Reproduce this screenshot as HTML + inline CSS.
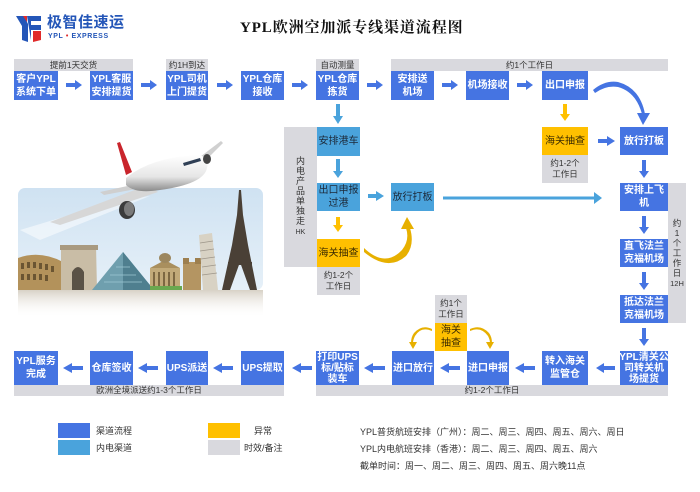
<!DOCTYPE html>
<html><head><meta charset="utf-8">
<style>
*{margin:0;padding:0;box-sizing:border-box}
html,body{width:700px;height:492px;background:#fff;overflow:hidden}
body{position:relative;font-family:"Liberation Sans","Noto Sans CJK SC",sans-serif}
.b{position:absolute;background:#4574e2;color:#fff;font-weight:bold;font-size:10px;line-height:13px;display:flex;align-items:center;justify-content:center;text-align:center;white-space:nowrap}
.l{background:#4aa3dc;color:#1d2a3a;font-weight:normal}
.y{background:#ffc000;color:#3a2a00;font-weight:normal}
.g{position:absolute;background:#d9d9de;color:#333;font-size:8.5px;line-height:11px;display:flex;align-items:center;justify-content:center;text-align:center;white-space:nowrap}
.t{position:absolute;font-size:9px;color:#333;white-space:nowrap;line-height:11px}
svg{position:absolute;left:0;top:0}
</style></head><body>

<svg width="700" height="492" viewBox="0 0 700 492">
<defs>
<linearGradient id="sky" x1="0" y1="0" x2="0" y2="1">
<stop offset="0" stop-color="#cfe2f2"/><stop offset="1" stop-color="#e6f0f8"/></linearGradient>
<linearGradient id="refl" x1="0" y1="0" x2="0" y2="1">
<stop offset="0" stop-color="#b8ad98" stop-opacity="0.55"/><stop offset="1" stop-color="#ffffff" stop-opacity="0"/></linearGradient>
<linearGradient id="fus" x1="0" y1="0" x2="0" y2="1">
<stop offset="0" stop-color="#ffffff"/><stop offset="0.6" stop-color="#e6e6e6"/><stop offset="1" stop-color="#8a8a8a"/></linearGradient>
</defs>
<path d="M16 16 L24 16 L28 24 L28 42 L22 40 L22 26 Z" fill="#2456b8"/>
<path d="M27 16 L41 16 L41 21 L31 21 L31 25 L41 25 L41 30 L31 30 L31 40 Z" fill="#2456b8"/>
<path d="M33 31 L41 31 L41 40 L33 42 Z" fill="#e02a2a"/>
<path d="M23 16 L27 16 L27 22 Z" fill="#e02a2a"/>

<rect x="18" y="188" width="245" height="102" rx="7" fill="url(#sky)"/>
<path d="M20 230 L120 200 L150 196 L40 240 Z" fill="#ffffff" opacity="0.5"/>
<path d="M18 258 Q40 250 63 262 L63 290 L18 290 Z" fill="#b3925b"/>
<g fill="#6b5532"><rect x="21" y="263" width="3" height="6"/><rect x="27" y="262" width="3" height="6"/><rect x="33" y="262" width="3" height="6"/><rect x="39" y="263" width="3" height="6"/><rect x="45" y="264" width="3" height="6"/><rect x="51" y="266" width="3" height="6"/><rect x="21" y="274" width="3" height="6"/><rect x="27" y="274" width="3" height="6"/><rect x="33" y="274" width="3" height="6"/><rect x="39" y="274" width="3" height="6"/><rect x="45" y="275" width="3" height="6"/></g>
<path d="M61 248 L96 245 L97 290 L61 290 Z" fill="#c9bda6"/>
<rect x="60" y="245" width="38" height="5" fill="#a99a80"/>
<path d="M72 290 L72 272 Q78 262 84 272 L84 290 Z" fill="#5a5246"/>
<path d="M92 290 L123 252 L154 290 Z" fill="#6f9fae"/>
<path d="M123 252 L154 290 L123 290 Z" fill="#4f7f8f"/>
<path d="M110 275 L136 275 M104 282 L142 282 M116 267 L130 267" stroke="#9fc6d2" stroke-width="0.7"/>
<rect x="150" y="268" width="30" height="22" fill="#c2aa79"/>
<path d="M150 268 L165 260 L180 268 Z" fill="#a98f5e"/>
<ellipse cx="165" cy="258" rx="6" ry="5" fill="#9c875f"/>
<g fill="#7d6842"><rect x="153" y="272" width="2" height="14"/><rect x="158" y="272" width="2" height="14"/><rect x="163" y="272" width="2" height="14"/><rect x="168" y="272" width="2" height="14"/><rect x="173" y="272" width="2" height="14"/></g>
<rect x="150" y="286" width="32" height="4" fill="#6aa84f"/>
<rect x="183" y="262" width="18" height="28" fill="#b49562"/>
<rect x="183" y="258" width="6" height="6" fill="#9d7f4f"/><rect x="195" y="258" width="6" height="6" fill="#9d7f4f"/>
<path d="M199 235 L212 233 L218 290 L203 290 Z" fill="#d8d2c4"/>
<g stroke="#9d968a" stroke-width="0.8"><line x1="200" y1="243" x2="213" y2="241"/><line x1="200" y1="251" x2="214" y2="249"/><line x1="201" y1="259" x2="215" y2="257"/><line x1="202" y1="267" x2="216" y2="265"/><line x1="202" y1="275" x2="217" y2="273"/></g>
<path d="M239 190 L241 190 L243 215 L248 245 L257 290 L250 290 L240 262 L230 290 L222 290 L232 245 L237 215 Z" fill="#4a4036"/>
<rect x="228" y="262" width="24" height="3" fill="#4a4036"/>
<rect x="233" y="242" width="14" height="2" fill="#4a4036"/>
<rect x="18" y="290" width="245" height="28" fill="url(#refl)"/>
<path d="M50 222 L148 185 L158 192 L60 225 Z" fill="#d7d7d7"/>
<path d="M100 192 L132 185 L136 189 L104 195 Z" fill="#cfcfcf"/>
<path d="M196 160 L221 141 L223 143 L202 164 Z" fill="#d0d0d0"/>
<path d="M117 143 L120 142 L132 172 L126 175 Z" fill="#c9252c"/>
<path d="M126 178 Q150 158 195 155 Q210 155 207 168 Q204 184 160 190 Q135 194 126 185 Z" fill="url(#fus)"/>
<path d="M183 163 L200 158 L201 161 L184 166 Z" fill="#2f3f55"/>
<ellipse cx="127" cy="210" rx="8" ry="9" fill="#3b3b3b"/>
<ellipse cx="129" cy="209" rx="5" ry="7" fill="#7a7a7a"/>
<ellipse cx="207" cy="159" rx="4" ry="5" fill="#444"/>

<g fill="#4574e2">
<path d="M66 83 L75 83 L75 80 L82 85 L75 90 L75 87 L66 87 Z"/>
<path d="M141 83 L150 83 L150 80 L157 85 L150 90 L150 87 L141 87 Z"/>
<path d="M217 83 L226 83 L226 80 L233 85 L226 90 L226 87 L217 87 Z"/>
<path d="M292 83 L301 83 L301 80 L308 85 L301 90 L301 87 L292 87 Z"/>
<path d="M367 83 L376 83 L376 80 L383 85 L376 90 L376 87 L367 87 Z"/>
<path d="M442 83 L451 83 L451 80 L458 85 L451 90 L451 87 L442 87 Z"/>
<path d="M517 83 L526 83 L526 80 L533 85 L526 90 L526 87 L517 87 Z"/>
<path d="M598 139 L607 139 L607 136 L615 141 L607 146 L607 143 L598 143 Z"/>
<path d="M642 160 L646 160 L646 171 L649 171 L644 178 L639 171 L642 171 Z"/>
<path d="M642 216 L646 216 L646 227 L649 227 L644 234 L639 227 L642 227 Z"/>
<path d="M642 272 L646 272 L646 283 L649 283 L644 290 L639 283 L642 283 Z"/>
<path d="M642 328 L646 328 L646 339 L649 339 L644 346 L639 339 L642 339 Z"/>
<path d="M615 366 L604 366 L604 363 L596 368 L604 373 L604 370 L615 370 Z"/>
<path d="M535 366 L524 366 L524 363 L515 368 L524 373 L524 370 L535 370 Z"/>
<path d="M460 366 L449 366 L449 363 L440 368 L449 373 L449 370 L460 370 Z"/>
<path d="M385 366 L373 366 L373 363 L364 368 L373 373 L373 370 L385 370 Z"/>
<path d="M312 366 L301 366 L301 363 L292 368 L301 373 L301 370 L312 370 Z"/>
<path d="M233 366 L222 366 L222 363 L213 368 L222 373 L222 370 L233 370 Z"/>
<path d="M158 366 L147 366 L147 363 L138 368 L147 373 L147 370 L158 370 Z"/>
<path d="M83 366 L72 366 L72 363 L63 368 L72 373 L72 370 L83 370 Z"/>
<path d="M593 90 Q605 80 618 82 Q640 88 645 114 L642 114 Q636 92 618 87 Q606 85 595 93 Z"/>
<path d="M637 113 L650 113 L643 125 Z"/>
</g>
<g fill="#4aa3dc">
<path d="M336 104 L340 104 L340 116 L343 116 L338 124 L333 116 L336 116 Z"/>
<path d="M336 159 L340 159 L340 171 L343 171 L338 178 L333 171 L336 171 Z"/>
<path d="M368 194 L376 194 L376 191 L384 196 L376 201 L376 198 L368 198 Z"/>
<path d="M443 196.5 L594 196.5 L594 192 L602 198 L594 204 L594 199.5 L443 199.5 Z"/>
</g>
<g fill="#ffc000">
<path d="M563 104 L567 104 L567 114 L570 114 L565 121 L560 114 L563 114 Z"/>
<path d="M336 217 L340 217 L340 225 L343 225 L338 232 L333 225 L336 225 Z"/>
<path d="M364 248 Q385 268 402 250 Q410 240 406 228 L410 228 Q415 245 406 256 Q388 272 364 252 Z" fill="#e7b000"/>
<path d="M401 229 L414 229 L407 217 Z" fill="#e7b000"/>
<path d="M432 331 Q421 326 415 336 Q413 340 413 343 L411 343 Q411 337 414 333 Q422 324 432 329 Z" fill="#e7b000"/>
<path d="M409 342 L417 342 L413 349 Z" fill="#e7b000"/>
<path d="M470 331 Q481 326 488 336 Q490 340 490 343 L492 343 Q492 337 489 333 Q481 324 470 329 Z" fill="#e7b000"/>
<path d="M486 342 L494 342 L490 349 Z" fill="#e7b000"/>
</g>
</svg>

<div class="t" style="left:47px;top:15px;font-size:15px;line-height:16px;font-weight:bold;color:#2456b8;letter-spacing:0.5px">极智佳速运</div>
<div class="t" style="left:48px;top:32px;font-size:7px;line-height:9px;font-weight:bold;color:#2456b8;letter-spacing:0.6px">YPL <span style="color:#e02a2a">•</span> EXPRESS</div>

<div class="t" style="left:240px;top:19px;font-family:'Liberation Serif','Noto Serif CJK SC',serif;font-size:15px;line-height:19px;font-weight:bold;color:#111;letter-spacing:0.9px">YPL欧洲空加派专线渠道流程图</div>

<div class="g" style="left:14px;top:59px;width:119px;height:12px">提前1天交货</div>
<div class="g" style="left:166px;top:59px;width:42px;height:12px">约1H到达</div>
<div class="g" style="left:316px;top:59px;width:43px;height:12px">自动测量</div>
<div class="g" style="left:391px;top:59px;width:277px;height:12px">约1个工作日</div>

<div class="b" style="left:14px;top:71px;width:44px;height:29px"><div>客户YPL<br>系统下单</div></div>
<div class="b" style="left:90px;top:71px;width:43px;height:29px"><div>YPL客服<br>安排提货</div></div>
<div class="b" style="left:166px;top:71px;width:42px;height:29px"><div>YPL司机<br>上门提货</div></div>
<div class="b" style="left:241px;top:71px;width:43px;height:29px"><div>YPL仓库<br>接收</div></div>
<div class="b" style="left:316px;top:71px;width:43px;height:29px"><div>YPL仓库<br>拣货</div></div>
<div class="b" style="left:391px;top:71px;width:43px;height:29px"><div>安排送<br>机场</div></div>
<div class="b" style="left:466px;top:71px;width:43px;height:29px"><div>机场接收</div></div>
<div class="b" style="left:542px;top:71px;width:46px;height:29px"><div>出口申报</div></div>

<div class="b y" style="left:542px;top:127px;width:46px;height:28px"><div>海关抽查</div></div>
<div class="g" style="left:542px;top:155px;width:46px;height:28px"><div>约1-2个<br>工作日</div></div>

<div class="b" style="left:620px;top:127px;width:48px;height:28px"><div>放行打板</div></div>
<div class="b" style="left:620px;top:183px;width:48px;height:28px"><div>安排上飞<br>机</div></div>
<div class="b" style="left:620px;top:239px;width:48px;height:28px"><div>直飞法兰<br>克福机场</div></div>
<div class="b" style="left:620px;top:295px;width:48px;height:28px"><div>抵达法兰<br>克福机场</div></div>
<div class="b" style="left:620px;top:351px;width:48px;height:34px;line-height:11px"><div>YPL清关公<br>司转关机<br>场提货</div></div>
<div class="g" style="left:668px;top:183px;width:18px;height:140px;line-height:10px;font-size:8.5px"><div>约<br>1<br>个<br>工<br>作<br>日<br><span style="font-size:7.5px">12H</span></div></div>

<div class="g" style="left:284px;top:127px;width:33px;height:140px;line-height:10px;font-size:9px"><div>内<br>电<br>产<br>品<br>单<br>独<br>走<br><span style="font-size:7px">HK</span></div></div>
<div class="b l" style="left:317px;top:127px;width:43px;height:29px"><div>安排港车</div></div>
<div class="b l" style="left:317px;top:183px;width:43px;height:28px"><div>出口申报<br>过港</div></div>
<div class="b y" style="left:317px;top:239px;width:43px;height:28px"><div>海关抽查</div></div>
<div class="g" style="left:317px;top:267px;width:43px;height:28px"><div>约1-2个<br>工作日</div></div>
<div class="b l" style="left:391px;top:183px;width:43px;height:28px"><div>放行打板</div></div>

<div class="g" style="left:435px;top:295px;width:32px;height:28px"><div>约1个<br>工作日</div></div>
<div class="b y" style="left:435px;top:323px;width:32px;height:28px"><div>海关<br>抽查</div></div>

<div class="b" style="left:14px;top:351px;width:44px;height:34px"><div>YPL服务<br>完成</div></div>
<div class="b" style="left:90px;top:351px;width:43px;height:34px"><div>仓库签收</div></div>
<div class="b" style="left:166px;top:351px;width:42px;height:34px"><div>UPS派送</div></div>
<div class="b" style="left:241px;top:351px;width:43px;height:34px"><div>UPS提取</div></div>
<div class="b" style="left:316px;top:351px;width:43px;height:34px;line-height:11px"><div>打印UPS<br>标/贴标<br>装车</div></div>
<div class="b" style="left:392px;top:351px;width:42px;height:34px"><div>进口放行</div></div>
<div class="b" style="left:467px;top:351px;width:42px;height:34px"><div>进口申报</div></div>
<div class="b" style="left:542px;top:351px;width:46px;height:34px"><div>转入海关<br>监管仓</div></div>
<div class="g" style="left:14px;top:385px;width:270px;height:11px">欧洲全境派送约1-3个工作日</div>
<div class="g" style="left:316px;top:385px;width:352px;height:11px">约1-2个工作日</div>

<div style="position:absolute;left:58px;top:423px;width:32px;height:15px;background:#4574e2"></div>
<div style="position:absolute;left:58px;top:440px;width:32px;height:15px;background:#4aa3dc"></div>
<div class="t" style="left:96px;top:426px">渠道流程</div>
<div class="t" style="left:96px;top:443px">内电渠道</div>
<div style="position:absolute;left:208px;top:423px;width:32px;height:15px;background:#ffc000"></div>
<div style="position:absolute;left:208px;top:440px;width:32px;height:15px;background:#d9d9de"></div>
<div class="t" style="left:254px;top:426px">异常</div>
<div class="t" style="left:244px;top:443px">时效/备注</div>

<div class="t" style="left:360px;top:427px">YPL普货航班安排（广州）：周二、周三、周四、周五、周六、周日</div>
<div class="t" style="left:360px;top:444px">YPL内电航班安排（香港）：周二、周三、周四、周五、周六</div>
<div class="t" style="left:360px;top:461px">截单时间：周一、周二、周三、周四、周五、周六晚11点</div>

</body></html>
